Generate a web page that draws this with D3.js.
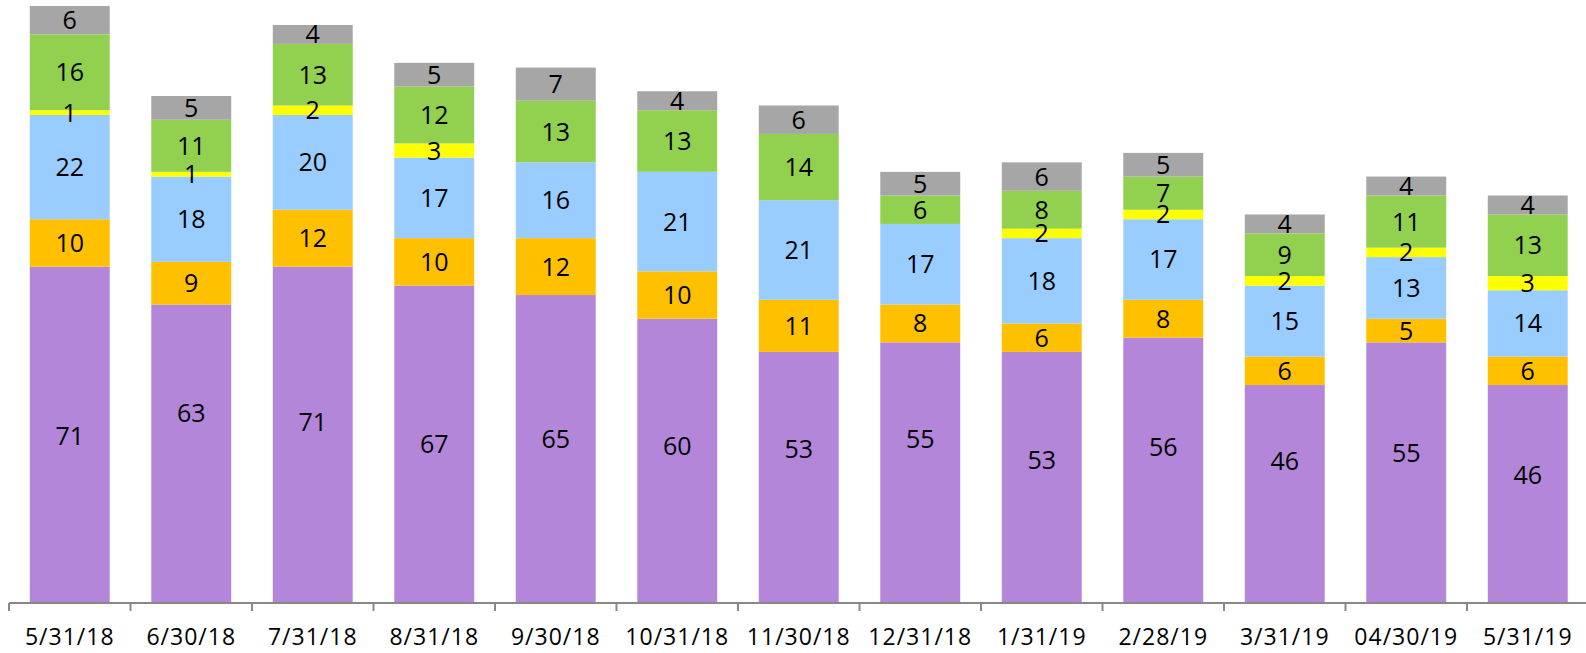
<!DOCTYPE html>
<html>
<head>
<meta charset="utf-8">
<script src="https://cdn.jsdelivr.net/npm/d3@7"></script>
<style>
  body { margin: 0; background: #fff; }
  svg { display: block; }
</style>
</head>
<body>
<div id="chart"></div>
<script>
var categories = ["5/31/18", "6/30/18", "7/31/18", "8/31/18", "9/30/18", "10/31/18", "11/30/18",
  "12/31/18", "1/31/19", "2/28/19", "3/31/19", "04/30/19", "5/31/19"];

var purple = [71, 63, 71, 67, 65, 60, 53, 55, 53, 56, 46, 55, 46];
var orange = [10, 9, 12, 10, 12, 10, 11, 8, 6, 8, 6, 5, 6];
var blue   = [22, 18, 20, 17, 16, 21, 21, 17, 18, 17, 15, 13, 14];
var yellow = [1, 1, 2, 3, 0, 0, 0, 0, 2, 2, 2, 2, 3];
var green  = [16, 11, 13, 12, 13, 13, 14, 6, 8, 7, 9, 11, 13];
var gray   = [6, 5, 4, 5, 7, 4, 6, 5, 6, 5, 4, 4, 4];

var seriesKeys = ["purple", "orange", "blue", "yellow", "green", "gray"];
var seriesValues = [purple, orange, blue, yellow, green, gray];
var colors = ["#B386D9", "#FFC000", "#99CCFF", "#FFFF00", "#92D050", "#A6A6A6"];

// the purple labels were hand-placed in the original, nudge them (px)
var purpleLabelNudge = [1, -41, -13, 0, -10, -15, -28, -34, -17, -23, -33, -20, -19];

var width = 1586, height = 653;
var baseY = 603;

var svg = d3.select("#chart").append("svg")
  .attr("width", width)
  .attr("height", height);

// table for d3.stack
var rows = categories.map(function(c, i) {
  var r = { cat: c, idx: i };
  seriesKeys.forEach(function(k, j) { r[k] = seriesValues[j][i]; });
  return r;
});

var stacked = d3.stack().keys(seriesKeys)(rows);

var x = d3.scaleBand()
  .domain(categories)
  .range([9, 9 + 121.5 * 13])
  .paddingInner(0.342)
  .paddingOuter(0.171);

var y = d3.scaleLinear()
  .domain([0, 126])
  .range([baseY, 6]);

var layers = svg.append("g").selectAll("g")
  .data(stacked)
  .enter().append("g")
  .attr("fill", function(d, i) { return colors[i]; });

layers.selectAll("rect")
  .data(function(d) { return d; })
  .enter().append("rect")
  .attr("x", function(d) { return x(d.data.cat); })
  .attr("width", x.bandwidth())
  .attr("y", function(d) { return y(d[1]); })
  .attr("height", function(d) { return y(d[0]) - y(d[1]); });

// value labels
var labels = svg.append("g")
  .attr("font-family", "'Open Sans', sans-serif")
  .attr("font-size", 25)
  .attr("fill", "#000")
  .attr("text-anchor", "middle");

stacked.forEach(function(layer, li) {
  labels.selectAll(null)
    .data(layer.filter(function(d) { return d[1] - d[0] > 0; }))
    .enter().append("text")
    .attr("x", function(d) { return x(d.data.cat) + x.bandwidth() / 2; })
    .attr("y", function(d) {
      var mid = (y(d[0]) + y(d[1])) / 2;
      if (li === 0) mid += purpleLabelNudge[d.data.idx];
      return mid;
    })
    .attr("dy", "0.36em")
    .text(function(d) { return d[1] - d[0]; });
});

// x axis
var axis = svg.append("g")
  .attr("transform", "translate(0," + baseY + ")")
  .call(d3.axisBottom(x).tickSize(0).tickPadding(0));

axis.select(".domain").remove();
axis.selectAll(".tick line").remove();

axis.append("line")
  .attr("x1", 9).attr("x2", width)
  .attr("y1", 0).attr("y2", 0)
  .attr("stroke", "#888").attr("stroke-width", 2);

var bounds = d3.range(categories.length + 1).map(function(i) { return 9 + i * x.step(); });
axis.selectAll(".sep")
  .data(bounds)
  .enter().append("line")
  .attr("class", "sep")
  .attr("x1", function(d) { return d; }).attr("x2", function(d) { return d; })
  .attr("y1", 0).attr("y2", 8)
  .attr("stroke", "#888").attr("stroke-width", 2);

axis.selectAll(".tick text")
  .attr("font-family", "'Open Sans', sans-serif")
  .attr("font-size", 23)
  .attr("letter-spacing", "1px")
  .attr("fill", "#000")
  .attr("dy", 0)
  .attr("y", 42);
</script>
</body>
</html>
